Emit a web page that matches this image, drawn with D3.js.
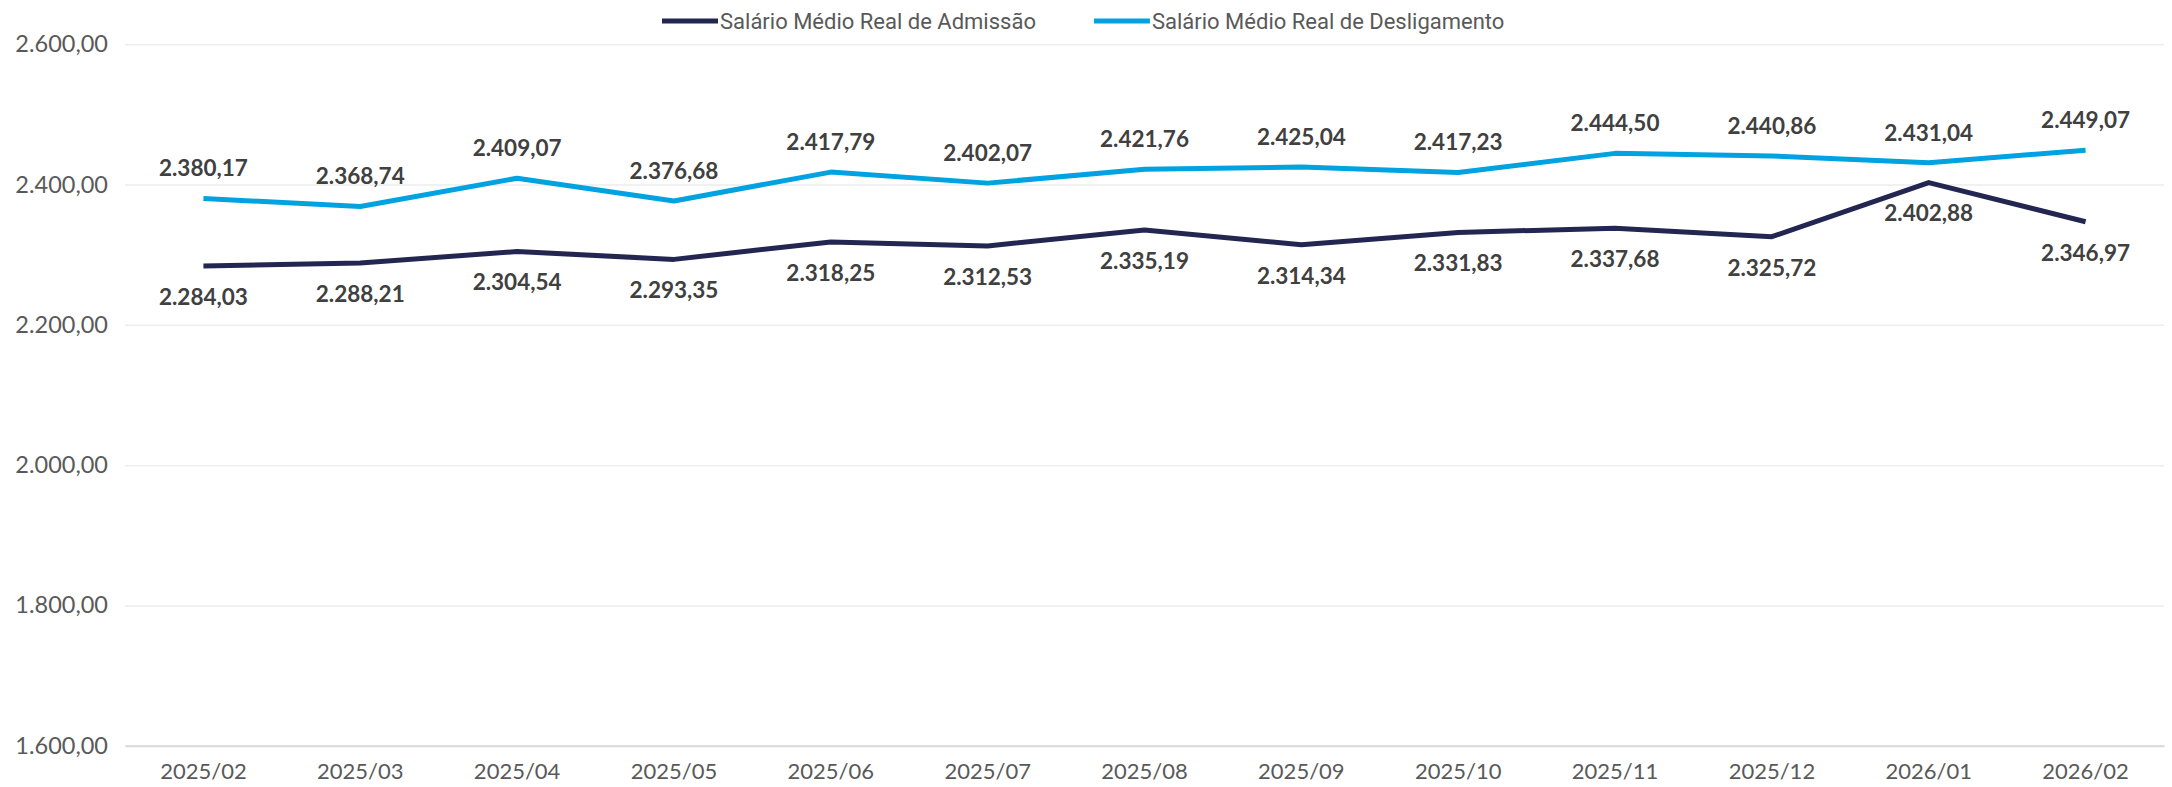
<!DOCTYPE html>
<html>
<head>
<meta charset="utf-8">
<script src="https://cdn.jsdelivr.net/npm/d3@7"></script>
<style>
  body { margin: 0; background: #fff; }
  svg { display: block; }
</style>
</head>
<body>
<div class="chart"></div>
<script>
// data
let months = ["2025/02","2025/03","2025/04","2025/05","2025/06","2025/07","2025/08","2025/09","2025/10","2025/11","2025/12","2026/01","2026/02"]
let admissao = [2284.03, 2288.21, 2304.54, 2293.35, 2318.25, 2312.53, 2335.19, 2314.34, 2331.83, 2337.68, 2325.72, 2402.88, 2346.97]
let desligamento = [2380.17, 2368.74, 2409.07, 2376.68, 2417.79, 2402.07, 2421.76, 2425.04, 2417.23, 2444.50, 2440.86, 2431.04, 2449.07]
let yTicks = [1600, 1800, 2000, 2200, 2400, 2600]
let seriesNames = ["Salário Médio Real de Admissão", "Salário Médio Real de Desligamento"]

let svgWidth = 2172
let svgHeight = 787
let margin = { left: 125, right: 8, top: 44.3, bottom: 41.3 }
let width = svgWidth - margin.left - margin.right
let height = svgHeight - margin.top - margin.bottom

let font = "Lato, 'Open Sans', sans-serif"

let br = d3.formatLocale({ decimal: ",", thousands: ".", grouping: [3], currency: ["R$", ""] })
let fmt = br.format(",.2f")

let root = d3.select('.chart')
    .append('svg')
    .attr('width', svgWidth)
    .attr('height', svgHeight)

let svg = root.append('g')
    .attr("transform", `translate(${margin.left},${margin.top})`)

let xScale = d3.scaleBand()
    .domain(months)
    .range([0, width])
let yScale = d3.scaleLinear()
    .domain([1600, 2600])
    .range([height, 0])

// gridlines + y labels
let yAxis = d3.axisLeft(yScale)
    .tickValues(yTicks)
    .tickSize(-width)
    .tickPadding(17)
    .tickFormat(fmt)

svg.append("g")
    .attr("id", "y-axis")
    .call(yAxis)
    .call(g => g.select(".domain").remove())
    .call(g => g.selectAll("line").attr("stroke", "#ededed").attr("stroke-width", 1.5))
    .call(g => g.selectAll("text")
        .attr("fill", "#595959")
        .style("font-family", font)
        .style("font-size", "23.5px"))

// x axis
let xAxis = d3.axisBottom(xScale)
    .tickSize(0)
    .tickPadding(18)

svg.append("g")
    .attr("id", "x-axis")
    .attr("transform", `translate(0,${height})`)
    .call(xAxis)
    .call(g => g.select(".domain").attr("stroke", "#d9d9d9").attr("stroke-width", 2))
    .call(g => g.selectAll("text")
        .attr("fill", "#595959")
        .style("font-family", font)
        .style("font-size", "22px"))

let colors = ["#222651", "#00a3e0"]
let allSeries = [admissao, desligamento]

let valueLine = d3.line()
    .x((d, i) => xScale(months[i]) + xScale.bandwidth() / 2)
    .y(d => yScale(d))

allSeries.forEach((values, s) => {
    svg.append("path")
        .attr("d", valueLine(values))
        .attr("fill", "none")
        .attr("stroke", colors[s])
        .attr("stroke-width", 5)
        .attr("stroke-linejoin", "round")
})

// data labels: admissão below, desligamento above
allSeries.forEach((values, s) => {
    svg.append("g").selectAll("text")
        .data(values)
        .join("text")
        .attr("x", (d, i) => xScale(months[i]) + xScale.bandwidth() / 2)
        .attr("y", d => yScale(d) + (s === 0 ? 31 : -30))
        .attr("dy", "0.35em")
        .attr("text-anchor", "middle")
        .attr("fill", "#404040")
        .style("font-family", font)
        .style("font-weight", "bold")
        .style("font-size", "22.5px")
        .text(d => fmt(d))
})

// legend
let legend = root.append("g").attr("transform", "translate(0,21)")
let lx = 662
seriesNames.forEach((name, i) => {
    legend.append("line")
        .attr("x1", lx).attr("x2", lx + 56)
        .attr("y1", 0).attr("y2", 0)
        .attr("stroke", colors[i])
        .attr("stroke-width", 5)
    let t = legend.append("text")
        .attr("x", lx + 58)
        .attr("y", 0)
        .attr("dy", "0.35em")
        .attr("fill", "#595959")
        .style("font-family", "'Liberation Sans Narrow', 'Roboto', sans-serif")
        .style("font-size", "22px")
        .text(name)
    lx = lx + 58 + t.node().getComputedTextLength() + 58
})
</script>
</body>
</html>
